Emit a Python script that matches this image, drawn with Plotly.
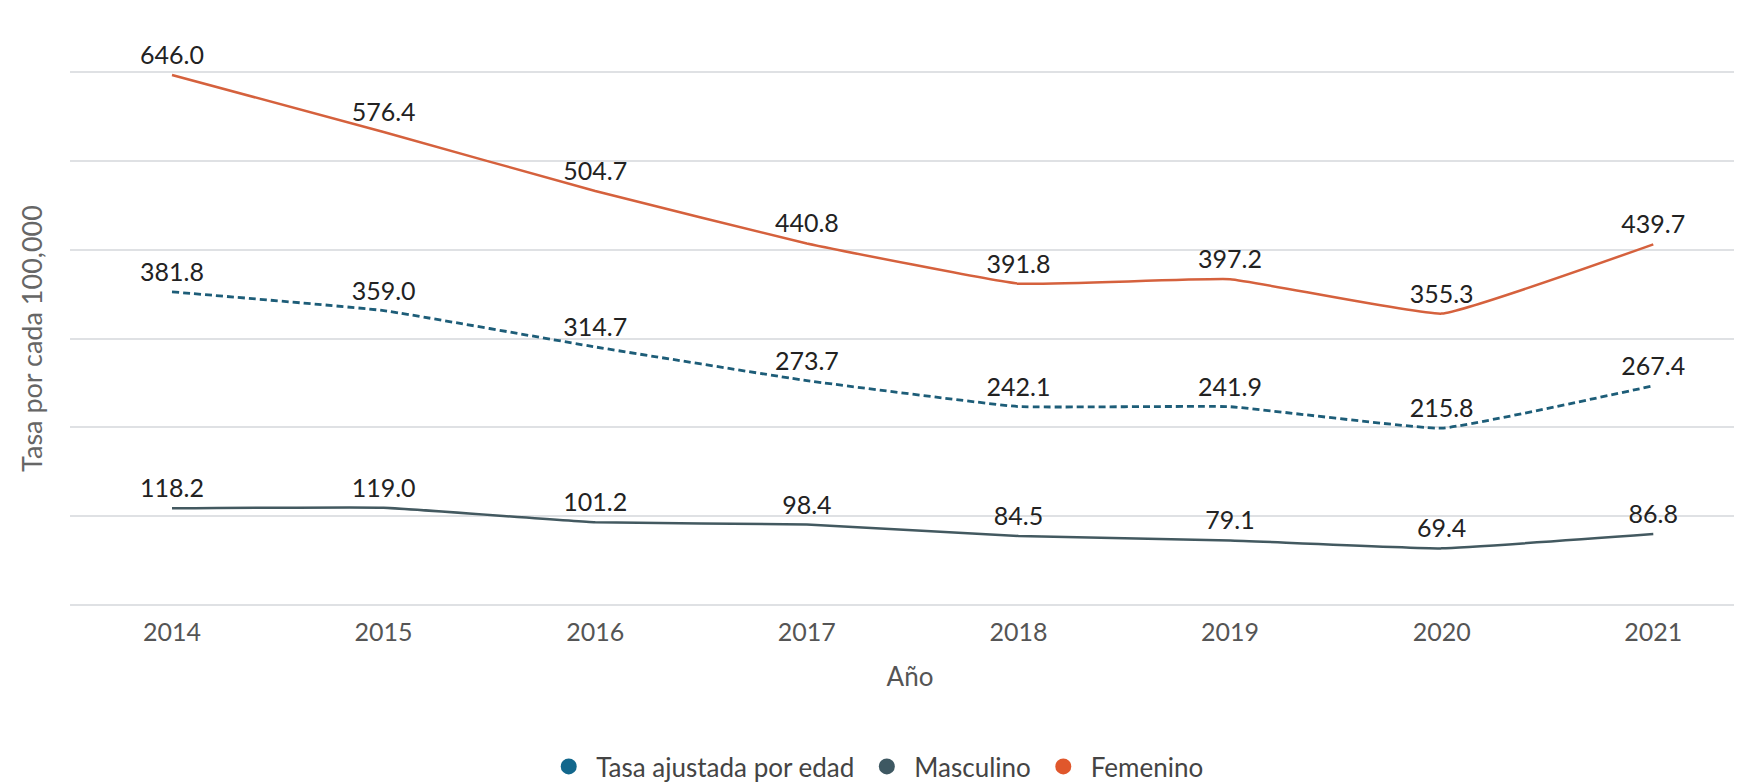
import plotly.graph_objects as go

years = ["2014", "2015", "2016", "2017", "2018", "2019", "2020", "2021"]
tasa = [381.8, 359.0, 314.7, 273.7, 242.1, 241.9, 215.8, 267.4]
masculino = [118.2, 119.0, 101.2, 98.4, 84.5, 79.1, 69.4, 86.8]
femenino = [646.0, 576.4, 504.7, 440.8, 391.8, 397.2, 355.3, 439.7]

names = ["Tasa ajustada por edad", "Masculino", "Femenino"]
line_colors = ["#1d5d78", "#435960", "#d5613d"]
legend_colors = ["#12678c", "#3e5862", "#e0572c"]
series = [tasa, masculino, femenino]
dashes = ["7px,4px", "solid", "solid"]
widths = [2.8, 2.5, 2.5]

label_font = dict(family="Lato", size=25, color="#222222")

fig = go.Figure()
for name, vals, col, dash, w in zip(names, series, line_colors, dashes, widths):
    fig.add_trace(go.Scatter(
        x=years, y=vals, mode="lines+markers+text", name=name,
        line=dict(color=col, width=w, dash=dash, shape="spline", smoothing=0.3),
        marker=dict(size=6, color="rgba(0,0,0,0)"),
        text=[f"{v:.1f}" for v in vals], textposition="top center",
        textfont=label_font, showlegend=False, hoverinfo="x+y",
        cliponaxis=False,
    ))
for name, col in zip(names, legend_colors):
    fig.add_trace(go.Scatter(
        x=[None], y=[None], mode="markers", name=name,
        marker=dict(color=col, size=22, symbol="circle"),
        showlegend=True,
    ))

grid_top = 650
fig.update_layout(
    width=1742, height=782,
    margin=dict(l=62, r=0, t=62, b=174),
    plot_bgcolor="white", paper_bgcolor="white",
    font=dict(family="Lato", size=25, color="#555555"),
    legend=dict(orientation="h", x=0.479, xanchor="center", y=-0.298, yanchor="middle",
                font=dict(family="Lato", size=26, color="#444444"), itemsizing="trace",
                itemwidth=45),
    xaxis=dict(type="category", range=[-0.482, 7.457], showgrid=False, zeroline=False,
               showline=False, ticks="", ticklabelstandoff=8,
               tickfont=dict(family="Lato", size=25, color="#555555"),
               title=dict(text="Año", standoff=22, font=dict(family="Lato", size=26, color="#555555"))),
    yaxis=dict(range=[-2, grid_top + 2], tickvals=[grid_top * i / 6 for i in range(7)],
               showticklabels=False, showgrid=True, gridcolor="#dfe1e4", gridwidth=1.5,
               zeroline=False, showline=False,
               title=dict(text="Tasa por cada 100,000", standoff=18,
                          font=dict(family="Lato", size=27, color="#666666"))),
)

fig.write_html("out.html")
